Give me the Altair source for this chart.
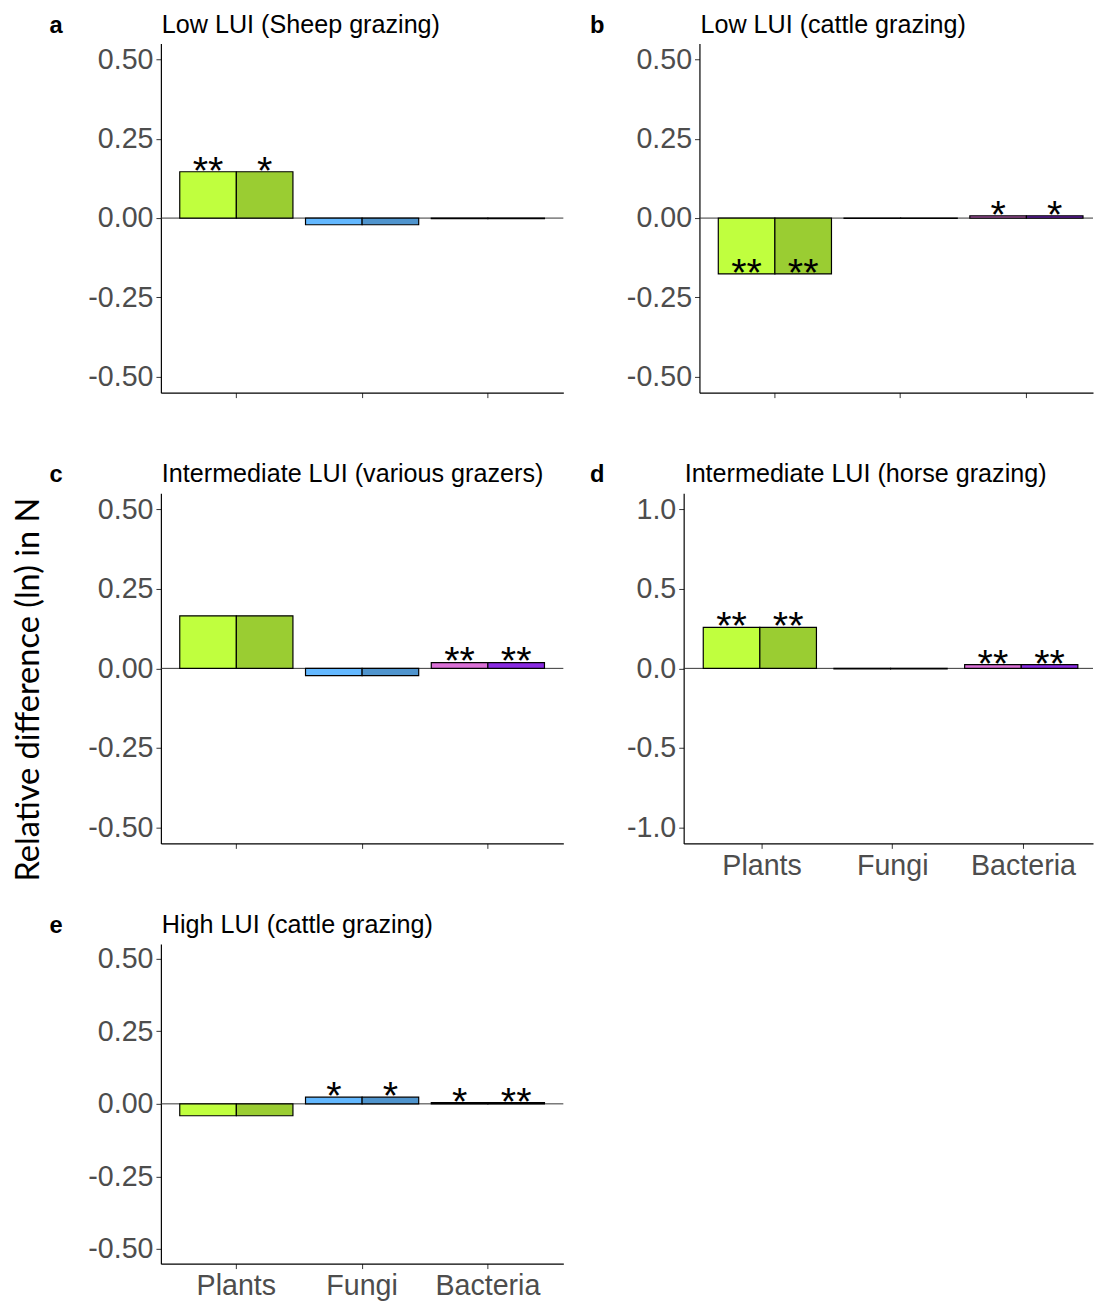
import altair as alt
import pandas as pd

FONT = "Liberation Sans"

categories = ["Plants", "Fungi", "Bacteria"]
series = ["s1", "s2"]
colors = ["#C0FF3E", "#9ACD32", "#63B8FF", "#4F94CD", "#DA70D6", "#8A2BE2"]

a_values = [0.146, 0.146, -0.021, -0.021, -0.002, -0.002]
a_sig = ["**", "*", "", "", "", ""]
b_values = [-0.176, -0.176, -0.001, -0.001, 0.007, 0.007]
b_sig = ["**", "**", "", "", "*", "*"]
c_values = [0.165, 0.165, -0.023, -0.023, 0.018, 0.018]
c_sig = ["", "", "", "", "**", "**"]
d_values = [0.258, 0.258, -0.003, -0.003, 0.023, 0.023]
d_sig = ["**", "**", "", "", "**", "**"]
e_values = [-0.041, -0.041, 0.023, 0.023, 0.004, 0.004]
e_sig = ["", "", "*", "*", "*", "**"]

ticks_small = [-0.5, -0.25, 0.0, 0.25, 0.5]
ticks_large = [-1.0, -0.5, 0.0, 0.5, 1.0]

y_title = "Relative difference (ln) in N"


def panel(letter, title, values, sig, domain, ticks, fmt, width, height,
          letter_x, labels_visible, pad_outer, align):
    df = pd.DataFrame({
        "cat": [c for c in categories for _ in series],
        "ser": series * len(categories),
        "val": values,
        "sig": sig,
    })
    df["key"] = df["cat"] + "_" + df["ser"]
    keys = list(df["key"])

    xenc = alt.X(
        "cat:N", sort=categories,
        scale=alt.Scale(domain=categories, paddingInner=0.1,
                        paddingOuter=pad_outer, align=align),
        axis=alt.Axis(title=None, labelOpacity=1 if labels_visible else 0,
                      labelAngle=0),
    )
    xo = alt.XOffset("ser:N", sort=series,
                     scale=alt.Scale(domain=series, paddingInner=0,
                                     paddingOuter=0))
    yenc = alt.Y(
        "val:Q",
        scale=alt.Scale(domain=domain, nice=False, zero=False),
        axis=alt.Axis(title=None, values=ticks, format=fmt,
                      labelExpr="replace(datum.label, '\u2212', '-')"),
    )

    base = alt.Chart(df)
    zero = alt.Chart(pd.DataFrame({"z": [0.0]})).mark_rule(
        color="#333333", strokeWidth=1
    ).encode(y=alt.Y("z:Q"))

    bars = base.mark_bar(stroke="black", strokeWidth=1.2).encode(
        x=xenc, xOffset=xo, y=yenc, y2=alt.datum(0),
        color=alt.Color("key:N", scale=alt.Scale(domain=keys, range=colors),
                        legend=None),
    )
    stars = base.transform_filter("datum.sig != ''").mark_text(
        fontSize=40, dy=12, font=FONT, color="black", baseline="alphabetic"
    ).encode(x=xenc, xOffset=xo, y=yenc, text="sig:N")

    letter_layer = alt.Chart(pd.DataFrame({"t": [letter]})).mark_text(
        align="left", baseline="alphabetic", fontWeight="bold", fontSize=24,
        font=FONT, color="black"
    ).encode(text="t:N", x=alt.value(letter_x), y=alt.value(-11))

    title_layer = alt.Chart(pd.DataFrame({"t": [title]})).mark_text(
        align="left", baseline="alphabetic", fontSize=25.5, font=FONT,
        color="black"
    ).encode(text="t:N", x=alt.value(1), y=alt.value(-11))

    return alt.layer(zero, bars, stars, letter_layer, title_layer).properties(
        width=width, height=height
    )


pa = panel("a", "Low LUI (Sheep grazing)", a_values, a_sig, [-0.55, 0.55],
           ticks_small, ".2f", 408, 354, -113, False, 0.15, 0.5)
pb = panel("b", "Low LUI (cattle grazing)", b_values, b_sig, [-0.55, 0.55],
           ticks_small, ".2f", 399, 354, -111, False, 0.1147, 0.653)
pc = panel("c", "Intermediate LUI (various grazers)", c_values, c_sig,
           [-0.55, 0.55], ticks_small, ".2f", 408, 355, -113, False, 0.15, 0.5)
pd_ = panel("d", "Intermediate LUI (horse grazing)", d_values, d_sig,
            [-1.1, 1.1], ticks_large, ".1f", 415, 355, -95, True, 0.116, 0.646)
pe = panel("e", "High LUI (cattle grazing)", e_values, e_sig, [-0.55, 0.55],
           ticks_small, ".2f", 408, 324, -113, True, 0.15, 0.5)

row1 = alt.hconcat(pa, pb, spacing=26)
row2 = alt.hconcat(pc, pd_, spacing=26)
rows = alt.vconcat(row1, row2, pe, spacing=34)

ytitle = alt.Chart(pd.DataFrame({"t": [y_title]})).mark_text(
    angle=270, align="center", baseline="middle", font="Lato", fontSize=33,
    color="black"
).encode(text="t:N", x=alt.value(16), y=alt.value(655)).properties(
    width=37, height=10
)

chart = alt.hconcat(ytitle, rows, spacing=0).properties(
    padding={"left": 5, "top": -4, "right": 0, "bottom": 0}
).configure_axis(
    labelFont=FONT, labelFontSize=29, labelColor="#4D4D4D",
    tickColor="#333333", tickSize=5, tickWidth=1,
    domainColor="black", domainWidth=1.2, grid=False, labelPadding=3,
).configure_view(stroke=None)

chart.save("out.html", embed_options={"renderer": "svg", "actions": False})
